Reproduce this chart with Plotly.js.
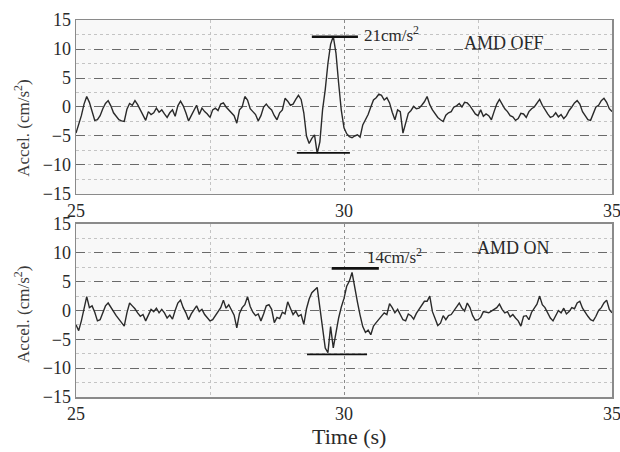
<!DOCTYPE html>
<html>
<head>
<meta charset="utf-8">
<script src="https://cdn.plot.ly/plotly-3.0.1.min.js"></script>
<style>html,body{margin:0;padding:0;background:#fff;}#chart{width:620px;height:452px;}</style>
</head>
<body>
<div id="chart"></div>
<script>
// Sampling of the acceleration records (s)
const tStart = 25;
const tStep = 0.05;

// AMD OFF acceleration (cm/s^2), 25.00 .. 35.00 s
const accelOff = [
  -4.5, -3, -1.5, 0.5, 1.8, 0.8, -1, -2.3, -2.2, -1.5, -0.3, 0.6, 1.1, 0.2, -1, -1.7, -2.2, -2.4, -2.5, -0.4,
  0.6, 0.3, 1.1, 0.4, -0.5, -1.2, -2.3, -0.8, -1.3, -1, -0.2, -0.9, -0.5, -1.2, -1.8, -1, -0.5, -1.6, 0.2, 1.0,
  0.2, -1, -2.4, -1.5, -0.6, 0.3, -1.3, -0.2, -0.8, -1.2, -1.8, -0.5, -0.2, -0.6, 0.5, 0.7, 0, -0.5, -1, -1.5,
  -2.8, -0.5, 0, 1.8, 1.2, -0.3, -0.8, -1.3, -2.4, -1.5, 0, 0.5, -0.1, -0.5, -1.5, -2.2, -1, -0.5, 1.5, 1,
  0.3, 0.5, 1.3, 2, 1.3, -1, -5, -6.3, -5.4, -4.8, -8, -6, -0.5, 3, 7.5, 10.8, 12.2, 9.3, 4.1, -0.6,
  -3.6, -4.6, -5.1, -5.3, -5.0, -4.8, -5.2, -3.1, -2.2, -1.3, 0, 1.2, 1.6, 2.2, 2, 1.2, 1.6, 0.7, -0.9, -2.2,
  -0.5, -0.8, -4.5, -2.6, -1.1, -0.6, 0.1, -0.3, -0.2, 0.3, 0.9, 1.8, 0.4, -0.5, -1.2, -1.8, -2.2, -2.5, -1.4, -1,
  -0.8, 0, 0.2, 0.6, 0, 0.8, 0.7, 0.2, -0.5, -1.2, -1.5, -0.5, -1.6, -1.2, -1.5, -2.2, -0.8, 0.5, 1.3, 0.4,
  -0.3, -0.8, -1.5, -1.7, -2.3, -2, -1.1, -1.2, -1.8, -0.8, -0.3, 0, 0.6, 1.3, 0.3, -0.5, -1.2, -1.8, -1.6, -1,
  -1.7, -1.3, -2, -1.5, -0.6, 0, 0.7, 1.1, 0.5, -0.8, -1.6, -2.2, -2.3, -1.2, 0, 0.3, 1.1, 1.5, 0.8, -0.3,
  -0.8
];

// AMD ON acceleration (cm/s^2), 25.00 .. 35.00 s
const accelOn = [
  -2.5, -3.5, -1.8, 0.2, 2.4, 0.5, 0.8, -0.3, -1.8, -1.6, -0.4, 0.8, 1.3, 0.5, -0.3, -0.9, -1.5, -2.2, -2.7, -0.4,
  1.3, 0.8, 0.3, -0.4, -1, -0.7, -1.8, -0.8, 0.2, -0.2, 0.4, -0.4, 0.2, -0.4, -1.3, -0.8, -1.5, 0, 1.3, 1.8,
  0.5, -0.4, -1.6, -0.6, 0.1, 0.8, -0.2, 0.2, -0.7, -1.3, -1.8, -1.6, -0.9, -0.2, 0.5, 1.8, 0.4, 1, 0.2, -0.8,
  -3, -0.5, 0.5, 1, 2.4, 0.7, -0.3, -0.9, -0.6, -1.8, -0.6, 0.8, 1, 0.2, -2.1, -1.2, -1.4, -0.3, -0.6, 1.5,
  0.4, -0.7, -0.1, -1, -0.7, -2.4, 0.3, 2.0, 3.1, 3.6, 4.0, 0.5, -3.5, -6.5, -7.3, -2.8, -6.5, -3.8, -1.3, 0.6,
  2.1, 4.2, 5.1, 6.6, 3.8, 1.5, -0.8, -2.8, -3.8, -3.4, -4.2, -2.7, -2.1, -1.5, -0.9, -0.4, -0.7, 1.2, 0.5, -0.4,
  0.2, -0.7, -1.6, -1.8, -0.6, -0.9, -1.5, -0.5, 0.2, 0.7, 1.6, 1.6, 2.5, -0.2, -1.3, -2.6, -2.2, -0.9, -1.6, -0.9,
  -0.7, 0, 0.5, 1.3, 0.4, -0.1, 1.3, 0.5, -0.9, -1.7, -1.6, -1.2, -0.2, -0.3, -0.4, -0.1, 0.2, 0.5, 1.1, 0.2,
  -0.4, -0.2, -1.1, -0.7, -1.3, -1.8, -2.7, -1, -0.9, -1.6, -0.3, 0.5, 1.1, 2.5, 1, 0.5, -0.4, -1.3, -1.8, -1,
  0, -0.4, 0.4, -0.6, -0.2, 0.5, 0.3, 1.3, 1.6, 0.4, -0.4, -1, -1.6, -1.8, -1, 0, 0.5, 1.3, 1.8, 0.2,
  -0.4
];

// Axis settings
const xRange = [25, 35];
const yRange = [-15, 15];
const xTicks = [25, 30, 35];
const yTicks = [-15, -10, -5, 0, 5, 10, 15];

// Peak-to-peak marker levels [level, tFrom, tTo]
const offPeakMark = [12.1, 29.40, 30.26];
const offTroughMark = [-7.9, 29.12, 30.11];
const onPeakMark = [7.3, 29.77, 30.65];
const onTroughMark = [-7.6, 29.31, 30.43];

const panelLabels = ["AMD OFF", "AMD ON"];
const rangeLabels = ["21cm/s<sup>2</sup>", "14cm/s<sup>2</sup>"];

const serif = "Liberation Serif, Times New Roman, serif";
const textCol = "#2a2a2a";

function yAxis(domain) {
  return {
    domain: domain, range: yRange, tickvals: yTicks, ticks: "", ticklabelstandoff: 0,
    showline: true, mirror: true, linecolor: "#8a8a8a", linewidth: 1.5,
    showgrid: true, gridcolor: "#6a6a6a", griddash: "dash", gridwidth: 1,
    minor: {dtick: 2.5, tick0: 0, showgrid: true, gridcolor: "#c4c4c4", griddash: "dot", gridwidth: 1},
    zeroline: false, tickfont: {family: serif, size: 18, color: textCol}
  };
}
function xAxis(anchor) {
  return {
    anchor: anchor, range: xRange, tickvals: xTicks, ticks: "", ticklabeloverflow: "allow",
    showline: true, mirror: true, linecolor: "#8a8a8a", linewidth: 1.5,
    showgrid: true, gridcolor: "#8a8a8a", griddash: "dot", gridwidth: 1,
    minor: {dtick: 2.5, tick0: 25, showgrid: true, gridcolor: "#c4c4c4", griddash: "dot", gridwidth: 1},
    zeroline: false, tickfont: {family: serif, size: 18, color: textCol}
  };
}

const traces = [
  {type: "scatter", mode: "lines", x0: tStart, dx: tStep, y: accelOff, xaxis: "x", yaxis: "y",
   line: {color: "#2a2a2a", width: 1.4}, showlegend: false, hoverinfo: "skip"},
  {type: "scatter", mode: "lines", x0: tStart, dx: tStep, y: accelOn, xaxis: "x2", yaxis: "y2",
   line: {color: "#2a2a2a", width: 1.4}, showlegend: false, hoverinfo: "skip"}
];

function markLine(m, xr, yr, w) {
  return {type: "line", xref: xr, yref: yr, x0: m[1], x1: m[2], y0: m[0], y1: m[0],
          line: {color: "#111", width: w}};
}

const layout = {
  width: 620, height: 452,
  margin: {l: 76, r: 8, t: 20, b: 55},
  paper_bgcolor: "#ffffff", plot_bgcolor: "#f8f8f8",
  showlegend: false,
  xaxis: xAxis("y"),
  yaxis: yAxis([0.5385, 1]),
  xaxis2: xAxis("y2"),
  yaxis2: yAxis([0, 0.4589]),
  shapes: [
    markLine(offPeakMark, "x", "y", 2.6),
    markLine(offTroughMark, "x", "y", 1.8),
    markLine(onPeakMark, "x2", "y2", 2.6),
    markLine(onTroughMark, "x2", "y2", 1.8)
  ],
  annotations: [
    {xref: "x", yref: "y", x: 30.34, y: 12.6, text: rangeLabels[0], showarrow: false,
     xanchor: "left", yanchor: "middle", font: {family: serif, size: 17, color: textCol}},
    {xref: "x", yref: "y", x: 32.2, y: 11.0, text: panelLabels[0], showarrow: false,
     xanchor: "left", yanchor: "middle", font: {family: serif, size: 18, color: textCol}},
    {xref: "x2", yref: "y2", x: 30.39, y: 9.4, text: rangeLabels[1], showarrow: false,
     xanchor: "left", yanchor: "middle", font: {family: serif, size: 17, color: textCol}},
    {xref: "x2", yref: "y2", x: 32.44, y: 10.9, text: panelLabels[1], showarrow: false,
     xanchor: "left", yanchor: "middle", font: {family: serif, size: 18, color: textCol}},
    {xref: "paper", yref: "paper", x: -0.1007, y: 0.714, text: "Accel. (cm/s<sup>2</sup>)", textangle: -90,
     showarrow: false, xanchor: "center", yanchor: "middle", font: {family: serif, size: 17, color: "#3a3a3a"}},
    {xref: "paper", yref: "paper", x: -0.1007, y: 0.22, text: "Accel. (cm/s<sup>2</sup>)", textangle: -90,
     showarrow: false, xanchor: "center", yanchor: "middle", font: {family: serif, size: 17, color: "#3a3a3a"}},
    {xref: "paper", yref: "paper", x: 0.509, y: -0.106, text: "Time (s)",
     showarrow: false, xanchor: "center", yanchor: "middle", font: {family: serif, size: 22, color: textCol}}
  ]
};

Plotly.newPlot("chart", traces, layout, {displayModeBar: false, staticPlot: true});
</script>
</body>
</html>
